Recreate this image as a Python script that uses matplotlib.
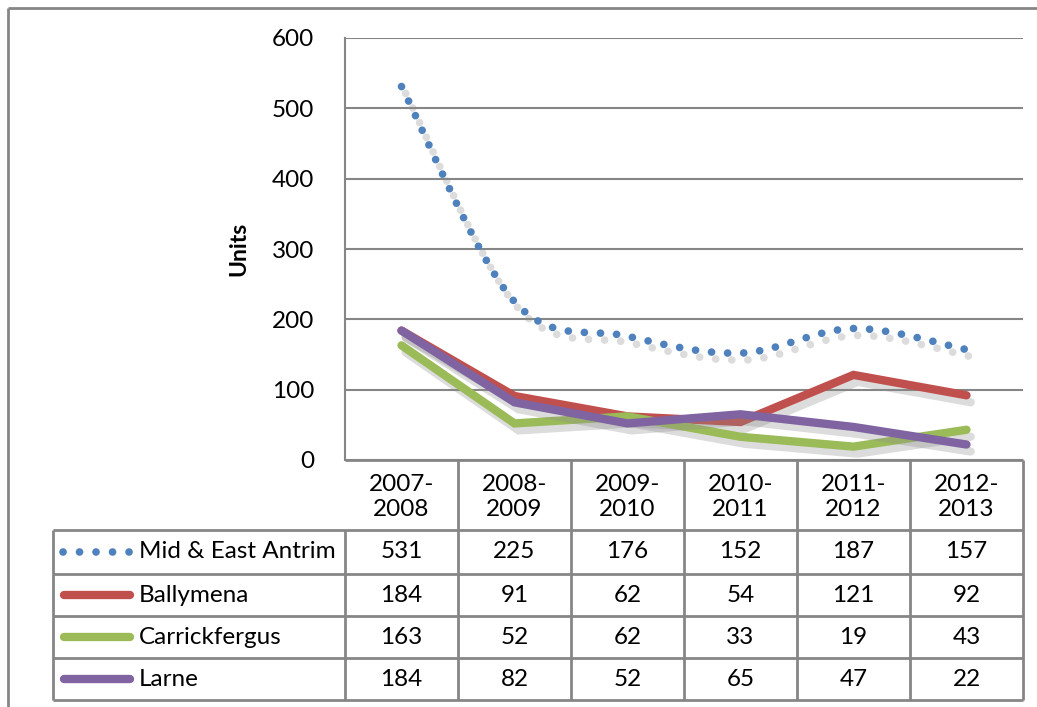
import matplotlib
matplotlib.use('Agg')
import matplotlib.pyplot as plt
import matplotlib.patheffects as pe
from matplotlib.path import Path
from matplotlib.patches import PathPatch
import numpy as np

plt.rcParams['font.family'] = ['Lato', 'DejaVu Sans']

years = ['2007-\n2008', '2008-\n2009', '2009-\n2010', '2010-\n2011', '2011-\n2012', '2012-\n2013']
series_names = ['Mid & East Antrim', 'Ballymena', 'Carrickfergus', 'Larne']
mid_east_antrim = [531, 225, 176, 152, 187, 157]
ballymena = [184, 91, 62, 54, 121, 92]
carrickfergus = [163, 52, 62, 33, 19, 43]
larne = [184, 82, 52, 65, 47, 22]
yticks = [0, 100, 200, 300, 400, 500, 600]

series = [mid_east_antrim, ballymena, carrickfergus, larne]
colors = ['#4F81BD', '#C0504D', '#9BBB59', '#8064A2']
GRID = '#868686'
FS = 17.5

W, H = 1037, 707
fig = plt.figure(figsize=(W / 100, H / 100), dpi=100)

# plot area in pixels: x 345..1023, y 38..460
L, R, T, B = 345, 1023, 38, 460
ax = fig.add_axes([L / W, 1 - B / H, (R - L) / W, (B - T) / H])
ax.set_xlim(-0.5, len(years) - 0.5)
ax.set_ylim(0, 600)
ax.set_yticks(yticks)
ax.set_yticklabels([str(v) for v in yticks], fontsize=FS)
ax.tick_params(axis='y', length=0, pad=22)
ax.set_xticks([])
ax.yaxis.grid(True, color=GRID, lw=1.5)
ax.set_axisbelow(True)
for s in ['top', 'right', 'bottom']:
    ax.spines[s].set_visible(False)
ax.spines['left'].set_color(GRID)
ax.spines['left'].set_linewidth(1.5)
ax.set_ylabel('Units', fontsize=16.5, fontweight='bold', labelpad=16)

shadow = [pe.SimpleLineShadow(offset=(3, -5), shadow_color='#8c8c8c', alpha=0.3),
          pe.Normal()]
x = np.arange(len(years))

# smoothed dotted series (Bezier through the data points)
pts = np.column_stack([x, mid_east_antrim]).astype(float)
verts = [pts[0]]
codes = [Path.MOVETO]
for i in range(len(pts) - 1):
    p0 = pts[i - 1] if i > 0 else pts[i]
    p3 = pts[i + 2] if i + 2 < len(pts) else pts[i + 1]
    c1 = pts[i] + (pts[i + 1] - p0) / 6
    c2 = pts[i + 1] - (p3 - pts[i]) / 6
    verts += [c1, c2, pts[i + 1]]
    codes += [Path.CURVE4] * 3
patch = PathPatch(Path(verts, codes), fill=False, edgecolor=colors[0], lw=5.5,
                  linestyle=(0, (0.01, 2.1)), capstyle='round', zorder=4)
patch.set_path_effects(shadow)
ax.add_patch(patch)

for vals, c in zip(series[1:], colors[1:]):
    ax.plot(x, vals, color=c, lw=6, solid_capstyle='round',
            solid_joinstyle='miter', path_effects=shadow, zorder=3)

# data table drawn on an overlay in pixel coordinates
tab = fig.add_axes([0, 0, 1, 1], zorder=-1)
tab.set_xlim(0, W)
tab.set_ylim(H, 0)
tab.axis('off')

col_w = (R - L) / len(years)
col_edges = [L + i * col_w for i in range(len(years) + 1)]
row_edges = [460, 530, 574, 616, 658, 700]
TL = 53
lk = dict(color=GRID, lw=2, solid_capstyle='butt')

# outer chart border
tab.plot([8, 8], [8, H], **lk)
tab.plot([8, W], [8, 8], **lk)

for xe in col_edges[1:]:
    tab.plot([xe, xe], [row_edges[0], row_edges[-1]], **lk)
tab.plot([L, L], [row_edges[1], row_edges[-1]], **lk)
tab.plot([TL, TL], [row_edges[1], row_edges[-1]], **lk)
tab.plot([L, R], [row_edges[0], row_edges[0]], **lk)
for ye in row_edges[1:]:
    tab.plot([TL, R], [ye, ye], **lk)

for j, lab in enumerate(years):
    cx = (col_edges[j] + col_edges[j + 1]) / 2
    tab.text(cx, (row_edges[0] + row_edges[1]) / 2 + 2, lab, ha='center', va='center',
             fontsize=FS, linespacing=1.25)

for i, (name, vals, c) in enumerate(zip(series_names, series, colors)):
    cy = (row_edges[i + 1] + row_edges[i + 2]) / 2
    if i == 0:
        tab.plot([63, 133], [cy, cy], color=c, lw=5.5, linestyle=(0, (0.01, 2.15)),
                 dash_capstyle='round')
    else:
        tab.plot([64, 130], [cy, cy], color=c, lw=6, solid_capstyle='round')
    tab.text(139, cy, name, ha='left', va='center', fontsize=FS)
    for j, v in enumerate(vals):
        cx = (col_edges[j] + col_edges[j + 1]) / 2
        tab.text(cx, cy, str(v), ha='center', va='center', fontsize=FS)

fig.savefig('out.png', dpi=100)
